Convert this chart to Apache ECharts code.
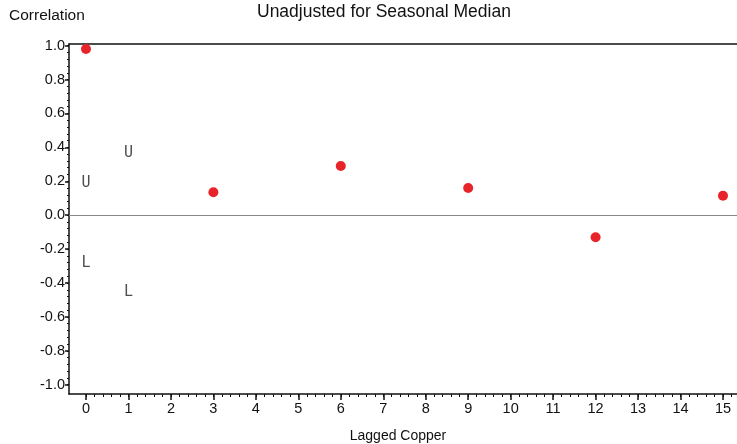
<!DOCTYPE html>
<html>
<head>
<meta charset="utf-8">
<script src="https://cdn.jsdelivr.net/npm/echarts@6/dist/echarts.min.js"></script>
<style>
html, body { margin: 0; padding: 0; background: #fff; }
#main { width: 737px; height: 444px; }
</style>
</head>
<body>
<div id="main"></div>
<script>
// lag values and correlations
var lags = [0, 3, 6, 9, 12, 15];
var corr = [0.98, 0.135, 0.29, 0.16, -0.13, 0.115];
// upper / lower bound markers
var upperLags = [0, 1];
var upperVals = [0.19, 0.365];
var lowerLags = [0, 1];
var lowerVals = [-0.285, -0.455];

var xTicks = [0, 1, 2, 3, 4, 5, 6, 7, 8, 9, 10, 11, 12, 13, 14, 15];
var yTicks = [-1.0, -0.8, -0.6, -0.4, -0.2, 0.0, 0.2, 0.4, 0.6, 0.8, 1.0];

var xMinor = [];
for (var i = 0; i < 15 * 5 + 2; i++) { xMinor.push(Math.round(i * 0.2 * 100) / 100); }
var yMinor = [];
for (var j = 0; j <= 50; j++) { yMinor.push(Math.round((-1 + j * 0.04) * 100) / 100); }

var font = 'Liberation Sans, Arial, sans-serif';
var X_MIN = -0.4, X_MAX = 15.33, Y_MIN = -1.055, Y_MAX = 1.01;

var myChart = echarts.init(document.getElementById('main'));
var option = {
    animation: false,
    title: [{
        text: 'Unadjusted for Seasonal Median',
        left: 252, top: -2,
        textStyle: { fontFamily: font, fontSize: 17.5, fontWeight: 'normal', color: '#111' }
    }, {
        text: 'Correlation',
        left: 4, top: 3,
        textStyle: { fontFamily: font, fontSize: 15.5, fontWeight: 'normal', color: '#111' }
    }],
    grid: { left: 69, right: 0, top: 44, bottom: 50, outerBoundsMode: 'none', containLabel: false },
    xAxis: [{
        type: 'value', min: X_MIN, max: X_MAX, position: 'bottom',
        name: 'Lagged Copper', nameLocation: 'middle', nameGap: 35,
        nameTextStyle: { fontFamily: font, fontSize: 14, color: '#111', padding: [0, 10, 0, 0] },
        axisLine: { onZero: false, lineStyle: { color: '#111', width: 1.5 } },
        axisTick: { customValues: xTicks, length: 6, lineStyle: { color: '#111', width: 1.5 } },
        axisLabel: { customValues: xTicks, fontFamily: font, fontSize: 14.5, color: '#111', margin: 7 },
        splitLine: { show: false }
    }, {
        type: 'value', min: X_MIN, max: X_MAX, position: 'bottom',
        axisLine: { show: false, onZero: false },
        axisTick: { customValues: xMinor, length: 3, lineStyle: { color: '#111', width: 1 } },
        axisLabel: { show: false },
        splitLine: { show: false }
    }, {
        type: 'value', min: X_MIN, max: X_MAX, position: 'top',
        axisLine: { onZero: false, lineStyle: { color: '#111', width: 1.5 } },
        axisTick: { show: false }, axisLabel: { show: false }, splitLine: { show: false }
    }],
    yAxis: [{
        type: 'value', min: Y_MIN, max: Y_MAX, position: 'left',
        axisLine: { show: true, onZero: false, lineStyle: { color: '#111', width: 1.5 } },
        axisTick: { show: true, customValues: yTicks, length: 4, lineStyle: { color: '#111', width: 1.5 } },
        axisLabel: {
            customValues: yTicks, fontFamily: font, fontSize: 14.5, color: '#111', margin: 4,
            formatter: function (v) { return v.toFixed(1); }
        },
        splitLine: { show: false }
    }, {
        type: 'value', min: Y_MIN, max: Y_MAX, position: 'left',
        axisLine: { show: false, onZero: false },
        axisTick: { show: true, customValues: yMinor, length: 2, lineStyle: { color: '#111', width: 1 } },
        axisLabel: { show: false },
        splitLine: { show: false }
    }],
    series: [{
        type: 'scatter',
        symbol: 'circle',
        symbolSize: 10,
        itemStyle: { color: '#e8242b', opacity: 1 },
        data: lags.map(function (l, k) { return [l, corr[k]]; }),
        markLine: {
            silent: true, symbol: 'none', label: { show: false },
            lineStyle: { color: '#888', width: 1.2, type: 'solid' },
            data: [{ yAxis: 0 }]
        }
    }, {
        type: 'scatter',
        symbolSize: 0,
        label: {
            show: true, position: 'inside', formatter: 'U',
            fontFamily: 'DejaVu Sans Mono, monospace', fontWeight: 'lighter',
            fontSize: 15, color: '#222'
        },
        data: upperLags.map(function (l, k) { return [l, upperVals[k]]; })
    }, {
        type: 'scatter',
        symbolSize: 0,
        label: {
            show: true, position: 'inside', formatter: 'L',
            fontFamily: 'DejaVu Sans Mono, monospace', fontWeight: 'lighter',
            fontSize: 15, color: '#222'
        },
        data: lowerLags.map(function (l, k) { return [l, lowerVals[k]]; })
    }]
};
myChart.setOption(option);
</script>
</body>
</html>
